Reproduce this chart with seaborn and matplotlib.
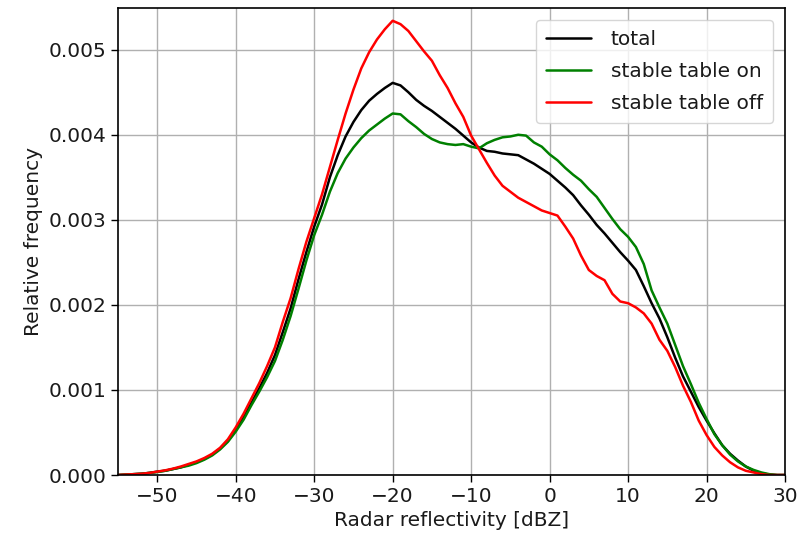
import numpy as np
import pandas as pd
import matplotlib
matplotlib.use("Agg")
import matplotlib.pyplot as plt
import seaborn as sns

dbz = list(range(-55, 31))

total = [0.0, 0.000005, 0.00001, 0.000015, 0.000025, 0.00004, 0.00005, 0.00007, 0.00009, 0.00012,
         0.00015, 0.00019, 0.00024, 0.00031, 0.0004, 0.00053, 0.00068, 0.00085, 0.00102, 0.0012,
         0.00141, 0.00168, 0.00196, 0.0023, 0.00262, 0.00292, 0.00318, 0.0035, 0.00376, 0.00398,
         0.00415, 0.00429, 0.0044, 0.00448, 0.00455, 0.00461, 0.00458, 0.0045, 0.00441, 0.00434,
         0.00428, 0.00421, 0.00414, 0.00407, 0.00399, 0.00391, 0.00385, 0.00381, 0.0038, 0.00378,
         0.00377, 0.00376, 0.00371, 0.00366, 0.0036, 0.00354, 0.00346, 0.00338, 0.00329, 0.00317,
         0.00306, 0.00294, 0.00284, 0.00273, 0.00262, 0.00252, 0.00241, 0.00222, 0.00202, 0.00184,
         0.00162, 0.00138, 0.00116, 0.00098, 0.0008, 0.00064, 0.00049, 0.00035, 0.00025, 0.00017,
         0.0001, 0.00005, 0.00002, 0.000005, 0.0, 0.0]

stable_on = [0.0, 0.000005, 0.00001, 0.000015, 0.000025, 0.000035, 0.00005, 0.00007, 0.00009, 0.00011,
             0.00014, 0.00018, 0.00023, 0.0003, 0.00039, 0.00051, 0.00065, 0.00082, 0.00098, 0.00115,
             0.00134, 0.00159, 0.00187, 0.00219, 0.00252, 0.00282, 0.00306, 0.00333, 0.00355, 0.00372,
             0.00385, 0.00396, 0.00405, 0.00412, 0.00419, 0.00425, 0.00424, 0.00416, 0.00409, 0.00401,
             0.00395, 0.00391, 0.00389, 0.00388, 0.00389, 0.00386, 0.00384, 0.0039, 0.00394, 0.00397,
             0.00398, 0.004, 0.00399, 0.00391, 0.00386, 0.00377, 0.0037, 0.00361, 0.00353, 0.00346,
             0.00336, 0.00327, 0.00314, 0.00301, 0.00289, 0.0028, 0.00268, 0.00248, 0.00217, 0.00197,
             0.00178, 0.00153, 0.00128, 0.00107, 0.00085, 0.00066, 0.00048, 0.00035, 0.00024, 0.00016,
             0.0001, 0.00006, 0.00003, 0.00001, 0.0, 0.0]

stable_off = [0.0, 0.000005, 0.00001, 0.000015, 0.000025, 0.00004, 0.000055, 0.000075, 0.0001, 0.00013,
              0.00016, 0.0002, 0.00025, 0.00032, 0.00042, 0.00056, 0.00072, 0.0009, 0.00108, 0.00128,
              0.0015, 0.0018, 0.00208, 0.00242, 0.00274, 0.00302, 0.0033, 0.00362, 0.00394, 0.00425,
              0.00453, 0.00478, 0.00497, 0.00512, 0.00524, 0.00534, 0.0053, 0.00522, 0.0051, 0.00498,
              0.00487, 0.0047, 0.00455, 0.00437, 0.00421, 0.00399, 0.00383, 0.00367, 0.00352, 0.0034,
              0.00333, 0.00326, 0.00321, 0.00316, 0.00311, 0.00308, 0.00305, 0.00292, 0.00278, 0.00258,
              0.00241, 0.00234, 0.00229, 0.00213, 0.00204, 0.00202, 0.00197, 0.0019, 0.00178, 0.00159,
              0.00146, 0.00127, 0.00105, 0.00086, 0.00064, 0.00047, 0.00033, 0.00023, 0.00015, 0.00009,
              0.00005, 0.00003, 0.00001, 0.0, 0.0, 0.0]

series_names = ["total", "stable table on", "stable table off"]
series_colors = ["black", "green", "red"]

df = pd.concat([
    pd.DataFrame({"dBZ": dbz, "freq": total, "series": series_names[0]}),
    pd.DataFrame({"dBZ": dbz, "freq": stable_on, "series": series_names[1]}),
    pd.DataFrame({"dBZ": dbz, "freq": stable_off, "series": series_names[2]}),
], ignore_index=True)

sns.set_style("ticks")
plt.rcParams["font.family"] = ["DejaVu Sans"]

fig = plt.figure(figsize=(7.99, 5.45), dpi=100)
ax = fig.add_axes([0.1477, 0.1284, 0.8348, 0.8569])

sns.lineplot(data=df, x="dBZ", y="freq", hue="series", hue_order=series_names,
             palette=dict(zip(series_names, series_colors)), linewidth=1.8, ax=ax)

fs = 14.5
ax.set_xlim(-55, 30)
ax.set_ylim(0, 0.00549)
ax.set_xticks([-50, -40, -30, -20, -10, 0, 10, 20, 30])
ax.set_yticks([0, 0.001, 0.002, 0.003, 0.004, 0.005])
ax.set_yticklabels(["0.000", "0.001", "0.002", "0.003", "0.004", "0.005"])
ax.grid(True, color="#b0b0b0", linewidth=1.0)
ax.tick_params(labelsize=fs, length=5, width=1.0, color="black", labelcolor="#1a1a1a")
ax.set_xlabel("Radar reflectivity [dBZ]", fontsize=fs, color="#1a1a1a")
ax.set_ylabel("Relative frequency", fontsize=fs, color="#1a1a1a")
for s in ax.spines.values():
    s.set_color("black")
    s.set_linewidth(1.2)

leg = ax.legend(loc="upper right", fontsize=fs, frameon=True, fancybox=True,
                framealpha=0.8, edgecolor="#cccccc", handlelength=2.2,
                handletextpad=1.0, labelspacing=0.65, borderpad=0.5,
                borderaxespad=0.6)
leg.set_title(None)
for t in leg.get_texts():
    t.set_color("#1a1a1a")

fig.savefig("out.png", dpi=100)
